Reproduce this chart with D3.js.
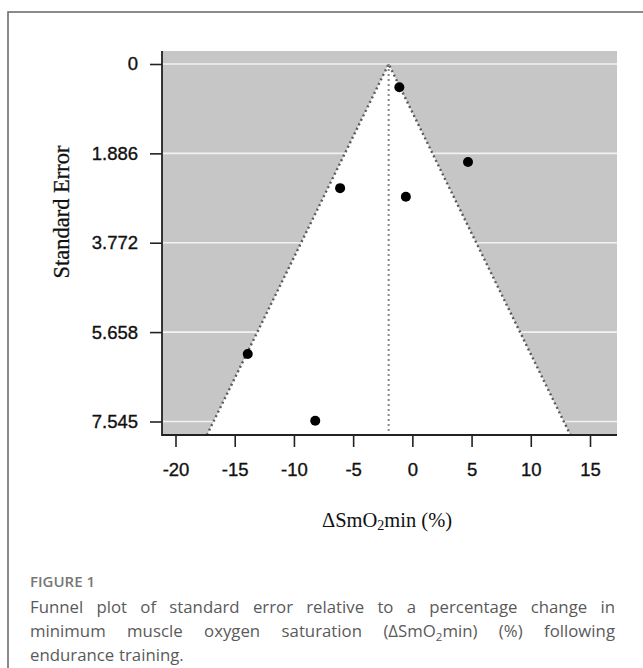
<!DOCTYPE html>
<html>
<head>
<meta charset="utf-8">
<script src="https://cdn.jsdelivr.net/npm/d3@7"></script>
<style>
  body { margin: 0; background: #fff; }
  svg { display: block; }
</style>
</head>
<body>
<svg id="chart" width="643" height="668"></svg>
<script>
// study estimates
const effect = [-1.1, 4.7, -6.1, -0.55, -13.9, -8.2]
const stdErr = [0.49, 2.07, 2.62, 2.8, 6.12, 7.53]
const pooled = -2.0
const seTicks = [0, 1.886, 3.772, 5.658, 7.545]
const seTickLabels = ['0', '1.886', '3.772', '5.658', '7.545']
const xTicks = [-20, -15, -10, -5, 0, 5, 10, 15]

const captionLines = [
    ['Funnel plot of standard error relative to a percentage change in', true],
    ['minimum muscle oxygen saturation (ΔSmO₂min) (%) following', true],
    ['endurance training.', false],
]

const plot = { left: 162, right: 617, top: 51, bottom: 435 }

const svg = d3.select('#chart')

// outer frame of the figure panel
svg.append('rect')
   .attr('x', 8).attr('y', 12)
   .attr('width', 700).attr('height', 700)
   .attr('fill', 'none')
   .attr('stroke', '#666')
   .attr('stroke-width', 1.5)

const x = d3.scaleLinear().domain([-20, 15]).range([175.5, 590])
const y = d3.scaleLinear().domain([0, 7.545]).range([64, 421.5])

const seMax = y.invert(plot.bottom)

// grey background
svg.append('rect')
   .attr('x', plot.left).attr('y', plot.top)
   .attr('width', plot.right - plot.left).attr('height', plot.bottom - plot.top)
   .attr('fill', '#c6c6c6')

// white grid lines at the SE ticks
svg.selectAll('.grid')
   .data(seTicks)
   .join('line')
   .attr('class', 'grid')
   .attr('x1', plot.left).attr('x2', plot.right)
   .attr('y1', d => y(d)).attr('y2', d => y(d))
   .attr('stroke', '#f2f2f2')
   .attr('stroke-width', 1.6)

// funnel (pseudo 95% CI region)
const funnel = [
    [pooled - 1.96 * seMax, seMax],
    [pooled, 0],
    [pooled + 1.96 * seMax, seMax],
]
svg.append('path')
   .attr('d', d3.line().x(d => x(d[0])).y(d => y(d[1]))(funnel) + 'Z')
   .attr('fill', '#fff')

svg.append('path')
   .attr('d', d3.line().x(d => x(d[0])).y(d => y(d[1]))(funnel))
   .attr('fill', 'none')
   .attr('stroke', '#5a5a5a')
   .attr('stroke-width', 2.4)
   .attr('stroke-dasharray', '2,3')

svg.append('line')
   .attr('x1', x(pooled)).attr('x2', x(pooled))
   .attr('y1', y(0)).attr('y2', y(seMax))
   .attr('stroke', '#888')
   .attr('stroke-width', 2)
   .attr('stroke-dasharray', '2,3')

// studies
svg.selectAll('.study')
   .data(effect)
   .join('circle')
   .attr('class', 'study')
   .attr('cx', d => x(d))
   .attr('cy', (d, i) => y(stdErr[i]))
   .attr('r', 5)
   .attr('fill', '#000')

// axes
const axisFont = "'Liberation Sans', Arial, sans-serif"

const yAxis = svg.append('g')
   .attr('transform', `translate(${plot.left},0)`)
   .call(d3.axisLeft(y).tickValues(seTicks).tickFormat((d, i) => seTickLabels[i])
        .tickSize(12).tickPadding(12))
yAxis.select('.domain').remove()

const xAxis = svg.append('g')
   .attr('transform', `translate(0,${plot.bottom})`)
   .call(d3.axisBottom(x).tickValues(xTicks).tickFormat(d => String(d))
        .tickSize(12).tickPadding(16))
xAxis.select('.domain').remove()

svg.selectAll('.tick line').attr('stroke', '#222').attr('stroke-width', 1.6)
svg.selectAll('.tick text')
   .attr('font-family', axisFont)
   .attr('font-size', 18.5)
   .attr('fill', '#111')
   .attr('stroke', '#111')
   .attr('stroke-width', 0.35)

svg.append('path')
   .attr('d', `M${plot.left},${plot.top}V${plot.bottom}H${plot.right}`)
   .attr('fill', 'none')
   .attr('stroke', '#222')
   .attr('stroke-width', 1.8)

// axis titles
const serif = "'Liberation Serif', 'Times New Roman', serif"
svg.append('text')
   .attr('transform', `translate(61,212) rotate(-90)`)
   .attr('text-anchor', 'middle')
   .attr('dy', '0.35em')
   .attr('font-family', serif)
   .attr('font-size', 22.5)
   .attr('fill', '#111')
   .attr('stroke', '#111')
   .attr('stroke-width', 0.3)
   .text('Standard Error')

const xt = svg.append('text')
   .attr('x', 387).attr('y', 527)
   .attr('text-anchor', 'middle')
   .attr('font-family', serif)
   .attr('font-size', 20.5)
   .attr('fill', '#111')
xt.append('tspan').text('ΔSmO')
xt.append('tspan').text('2').attr('font-size', 14).attr('dy', 3)
xt.append('tspan').text('min (%)').attr('dy', -3)

// caption
const capFont = "'Open Sans', 'Noto Sans', sans-serif"
svg.append('text')
   .attr('x', 30).attr('y', 587)
   .attr('font-family', capFont)
   .attr('font-size', 15)
   .attr('font-weight', 600)
   .attr('fill', '#777')
   .text('FIGURE 1')

const capLeft = 30, capRight = 615
captionLines.forEach(([line, justify], li) => {
    const words = line.split(' ')
    const g = svg.append('g')
    const ty = 613 + li * 24
    const nodes = words.map(w => {
        const t = g.append('text')
           .attr('y', ty)
           .attr('font-family', capFont)
           .attr('font-size', 16.8)
           .attr('fill', '#5a5a5a')
        if (w.includes('₂')) {
            const parts = w.split('₂')
            t.append('tspan').text(parts[0])
            t.append('tspan').text('2').attr('font-size', 11.5).attr('dy', 4)
            t.append('tspan').text(parts[1]).attr('dy', -4)
        } else {
            t.text(w)
        }
        return t
    })
    const widths = nodes.map(t => t.node().getComputedTextLength())
    const total = d3.sum(widths)
    const gap = justify ? (capRight - capLeft - total) / (words.length - 1) : 4.8
    let cx = capLeft
    nodes.forEach((t, i) => {
        t.attr('x', cx)
        cx += widths[i] + gap
    })
})
</script>
</body>
</html>
